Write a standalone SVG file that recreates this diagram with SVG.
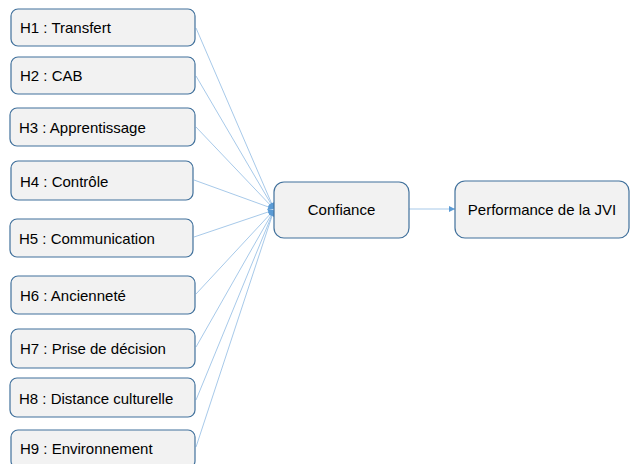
<svg xmlns="http://www.w3.org/2000/svg" width="630" height="464" viewBox="0 0 630 464">
<defs>
<style>
.box{fill:#F2F2F2;stroke:#41719C;stroke-width:1.2}
.t{font-family:"Liberation Sans",Arial,sans-serif;font-size:15px;fill:#000}
.c{stroke:#9DC3E6;stroke-width:0.9;fill:none;marker-end:url(#ah)}
</style>
<marker id="ah" viewBox="0 0 10 10" refX="10" refY="5" markerWidth="7" markerHeight="6" markerUnits="userSpaceOnUse" orient="auto">
<path d="M0,0 L10,5 L0,10 z" fill="#5B9BD5"/>
</marker>
</defs>
<rect width="630" height="464" fill="#fff"/>
<g id="connectors">
<line class="c" x1="196" y1="28" x2="274" y2="209"/>
<line class="c" x1="196" y1="76" x2="274" y2="209"/>
<line class="c" x1="196" y1="127" x2="274" y2="209"/>
<line class="c" x1="194" y1="180" x2="274" y2="209"/>
<line class="c" x1="194" y1="237" x2="274" y2="210"/>
<line class="c" x1="196" y1="294" x2="274" y2="210"/>
<line class="c" x1="196" y1="347" x2="274" y2="210"/>
<line class="c" x1="196" y1="400" x2="274" y2="210"/>
<line class="c" x1="196" y1="447" x2="274" y2="210"/>
<line class="c" x1="409" y1="209" x2="455" y2="209"/>
</g>
<g id="h1"><rect class="box" x="11" y="9" width="184" height="37" rx="7"/><text class="t" x="20" y="33">H1 : Transfert</text></g>
<g id="h2"><rect class="box" x="11" y="57" width="184" height="37" rx="7"/><text class="t" x="20" y="81">H2 : CAB</text></g>
<g id="h3"><rect class="box" x="10" y="108" width="185" height="38" rx="7"/><text class="t" x="19" y="133">H3 : Apprentissage</text></g>
<g id="h4"><rect class="box" x="11" y="161" width="182" height="39" rx="7"/><text class="t" x="20" y="187">H4 : Contrôle</text></g>
<g id="h5"><rect class="box" x="10" y="219" width="183" height="38" rx="7"/><text class="t" x="19" y="244">H5 : Communication</text></g>
<g id="h6"><rect class="box" x="11" y="276" width="184" height="38" rx="7"/><text class="t" x="20" y="301">H6 : Ancienneté</text></g>
<g id="h7"><rect class="box" x="11" y="329" width="184" height="39" rx="7"/><text class="t" x="20" y="354">H7 : Prise de décision</text></g>
<g id="h8"><rect class="box" x="10" y="378" width="185" height="39" rx="7"/><text class="t" x="19" y="404">H8 : Distance culturelle</text></g>
<g id="h9"><rect class="box" x="11" y="430" width="184" height="38" rx="7"/><text class="t" x="20" y="454">H9 : Environnement</text></g>
<g id="confiance"><rect class="box" x="274" y="182" width="135" height="56" rx="10"/><text class="t" x="341.5" y="215" text-anchor="middle">Confiance</text></g>
<g id="performance"><rect class="box" x="455" y="181" width="174" height="57" rx="10"/><text class="t" x="542" y="215" text-anchor="middle">Performance de la JVI</text></g>
</svg>
